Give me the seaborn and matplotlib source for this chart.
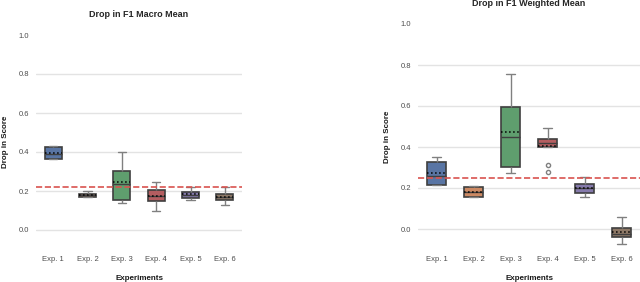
import numpy as np
import pandas as pd
import matplotlib
matplotlib.use("Agg")
import matplotlib.pyplot as plt
import seaborn as sns

EXPERIMENTS = ["Exp. 1", "Exp. 2", "Exp. 3", "Exp. 4", "Exp. 5", "Exp. 6"]

# drop in F1 macro mean, per run
macro_exp1 = [0.362, 0.362, 0.391, 0.424, 0.432]
macro_exp2 = [0.171, 0.171, 0.178, 0.183, 0.200]
macro_exp3 = [0.137, 0.154, 0.236, 0.303, 0.400]
macro_exp4 = [0.096, 0.150, 0.174, 0.205, 0.248]
macro_exp5 = [0.154, 0.166, 0.182, 0.195, 0.222]
macro_exp6 = [0.128, 0.152, 0.168, 0.186, 0.220]
macro_ref = 0.222

# drop in F1 weighted mean, per run
weighted_exp1 = [0.215, 0.215, 0.260, 0.327, 0.350]
weighted_exp2 = [0.158, 0.158, 0.182, 0.205, 0.211]
weighted_exp3 = [0.272, 0.301, 0.449, 0.594, 0.758]
weighted_exp4 = [0.277, 0.314, 0.400, 0.405, 0.421, 0.430, 0.440, 0.462, 0.494]
weighted_exp5 = [0.158, 0.176, 0.200, 0.218, 0.252]
weighted_exp6 = [-0.072, -0.037, -0.023, 0.006, 0.057]
weighted_ref = 0.250


def to_frame(groups):
    rows = []
    for name, vals in zip(EXPERIMENTS, groups):
        for v in vals:
            rows.append((name, v))
    return pd.DataFrame(rows, columns=["Experiments", "Drop in Score"])


def draw(ax, df, ref, title):
    sns.boxplot(data=df, x="Experiments", y="Drop in Score", hue="Experiments",
                palette="deep", legend=False, width=0.5, ax=ax,
                showmeans=True, meanline=True, linewidth=1,
                boxprops=dict(edgecolor="#3f3f3f", linewidth=1.2),
                medianprops=dict(color="#3f3f3f", linewidth=1),
                whiskerprops=dict(color="#808080"),
                capprops=dict(color="#808080"),
                meanprops=dict(color="black", linestyle=":", linewidth=1.1),
                flierprops=dict(marker="o", markersize=3, markerfacecolor="none",
                                markeredgecolor="#808080"))
    ax.axhline(ref, color="#d9534f", linestyle="--", linewidth=1.2, zorder=5)
    ax.set_ylim(-0.1, 1.0)
    ax.set_yticks([0.0, 0.2, 0.4, 0.6, 0.8, 1.0])
    ax.set_title(title, fontsize=6.5, fontweight="bold", pad=13, color="0.15")
    ax.set_xlabel("Experiments", fontsize=5.8, fontweight="bold", labelpad=8, color="0.1")
    ax.set_ylabel("Drop in Score", fontsize=5.8, fontweight="bold", labelpad=7, color="0.1")
    ax.tick_params(axis="both", labelsize=5.5, colors="0.3", length=0, pad=5)
    ax.grid(axis="x", visible=False)
    ax.grid(axis="y", color="#e3e3e3", linewidth=1)
    for s in ax.spines.values():
        s.set_visible(False)
    # no gridline drawn on the top edge
    ax.get_ygridlines()[-1].set_visible(False)


def main():
    sns.set_theme(style="whitegrid")
    plt.rcParams["font.family"] = ["Liberation Sans", "DejaVu Sans"]

    fig = plt.figure(figsize=(6.4, 2.82), dpi=100)
    ax1 = fig.add_axes([36 / 640, 32.5 / 282, 206 / 640, 214.5 / 282])
    ax2 = fig.add_axes([418 / 640, 32.5 / 282, 222 / 640, 225.5 / 282])

    draw(ax1, to_frame([macro_exp1, macro_exp2, macro_exp3,
                        macro_exp4, macro_exp5, macro_exp6]),
         macro_ref, "Drop in F1 Macro Mean")
    draw(ax2, to_frame([weighted_exp1, weighted_exp2, weighted_exp3,
                        weighted_exp4, weighted_exp5, weighted_exp6]),
         weighted_ref, "Drop in F1 Weighted Mean")

    fig.savefig("out.png", dpi=100)


if __name__ == '__main__':
    main()
